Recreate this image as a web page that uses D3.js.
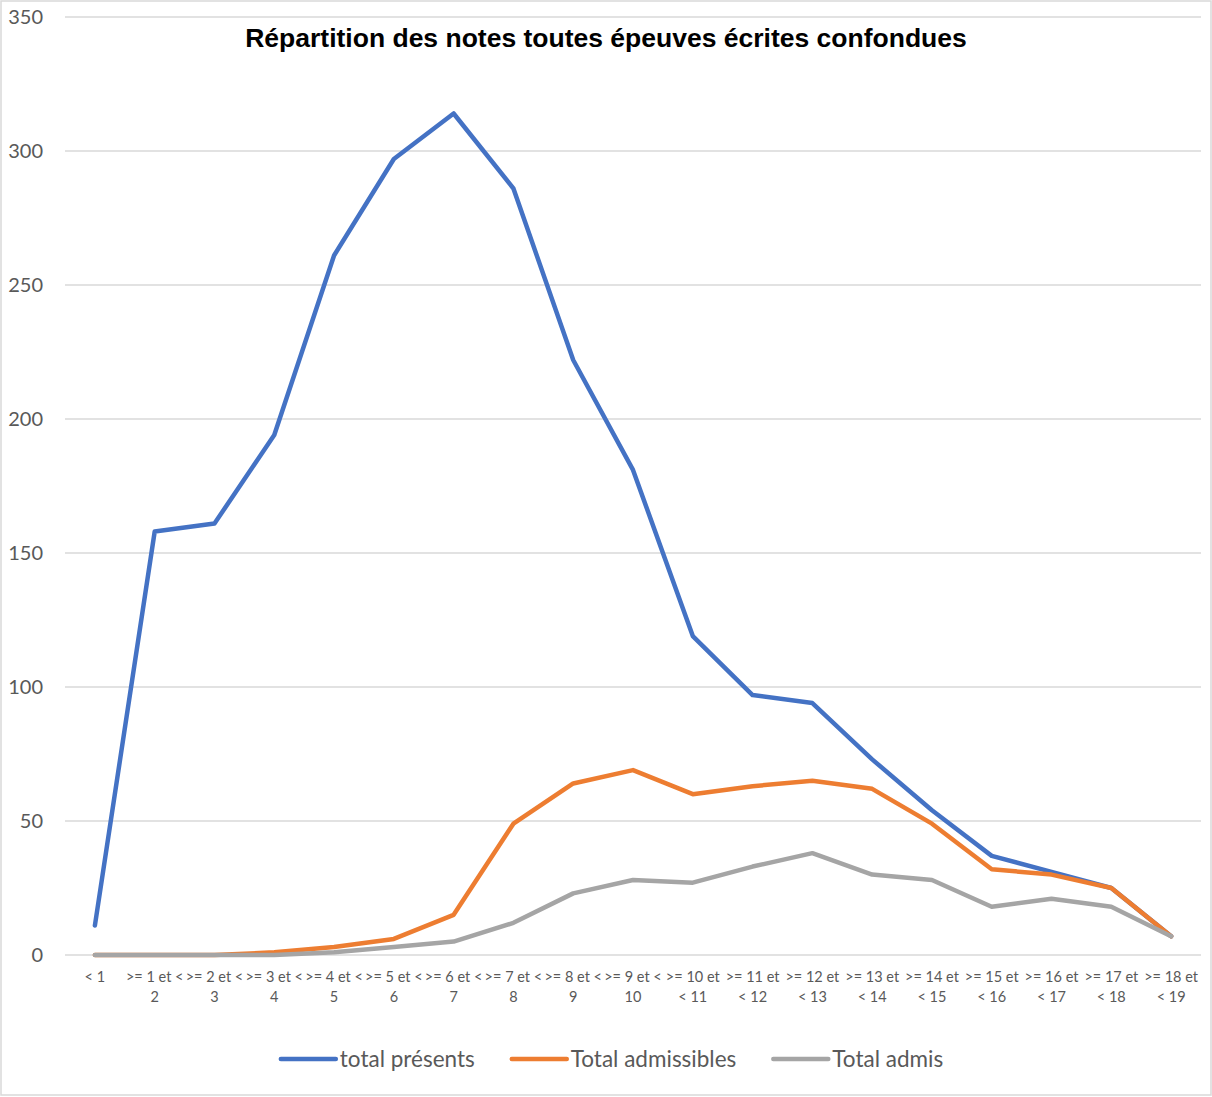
<!DOCTYPE html>
<html><head><meta charset="utf-8">
<script src="https://cdn.jsdelivr.net/npm/d3@7"></script>
<style>body{margin:0;background:#fff}svg{display:block}</style>
</head><body>
<svg id="c" width="1212" height="1097"></svg>
<script>
const title = "Répartition des notes toutes épeuves écrites confondues";
const categories = ["< 1", ">= 1 et < 2", ">= 2 et < 3", ">= 3 et < 4", ">= 4 et < 5", ">= 5 et < 6", ">= 6 et < 7", ">= 7 et < 8", ">= 8 et < 9", ">= 9 et < 10", ">= 10 et < 11", ">= 11 et < 12", ">= 12 et < 13", ">= 13 et < 14", ">= 14 et < 15", ">= 15 et < 16", ">= 16 et < 17", ">= 17 et < 18", ">= 18 et < 19"];
const tickLines = [["< 1"], [">= 1 et <", "2"], [">= 2 et <", "3"], [">= 3 et <", "4"], [">= 4 et <", "5"], [">= 5 et <", "6"], [">= 6 et <", "7"], [">= 7 et <", "8"], [">= 8 et <", "9"], [">= 9 et <", "10"], [">= 10 et", "< 11"], [">= 11 et", "< 12"], [">= 12 et", "< 13"], [">= 13 et", "< 14"], [">= 14 et", "< 15"], [">= 15 et", "< 16"], [">= 16 et", "< 17"], [">= 17 et", "< 18"], [">= 18 et", "< 19"]];
const seriesNames = ["total présents", "Total admissibles", "Total admis"];
const presents = [11, 158, 161, 194, 261, 297, 314, 286, 222, 181, 119, 97, 94, 73, 54, 37, 31, 25, 7];
const admissibles = [0, 0, 0, 1, 3, 6, 15, 49, 64, 69, 60, 63, 65, 62, 49, 32, 30, 25, 7];
const admis = [0, 0, 0, 0, 1, 3, 5, 12, 23, 28, 27, 33, 38, 30, 28, 18, 21, 18, 7];
const yTicks = [0, 50, 100, 150, 200, 250, 300, 350];
const colors = ["#4472C4", "#ED7D31", "#A5A5A5"];

const svg = d3.select("#c");
svg.append("rect").attr("x", 1).attr("y", 1).attr("width", 1210).attr("height", 1094)
  .attr("fill", "#fff").attr("stroke", "#d9d9d9").attr("stroke-width", 1.5);

const L = 65, R = 1201, T = 17, B = 955;
const x = d3.scalePoint().domain(categories).range([L, R]).padding(0.5);
const y = d3.scaleLinear().domain([0, 350]).range([B, T]);

const grid = svg.append("g");
grid.selectAll("line").data(yTicks).join("line")
  .attr("x1", L).attr("x2", R).attr("y1", d => y(d)).attr("y2", d => y(d))
  .attr("stroke", "#d9d9d9").attr("stroke-width", 1.5);

const axisFont = "Lato, 'Open Sans', sans-serif";
svg.append("g").selectAll("text").data(yTicks).join("text")
  .attr("x", 43).attr("y", d => y(d)).attr("dy", "0.35em").attr("text-anchor", "end")
  .attr("font-family", axisFont).attr("font-size", 20).attr("fill", "#595959")
  .text(d => d);

const xl = svg.append("g");
categories.forEach((c, i) => {
  const t = xl.append("text").attr("text-anchor", "middle")
    .attr("font-family", axisFont).attr("font-size", 14.5).attr("fill", "#595959");
  tickLines[i].forEach((ln, j) => {
    t.append("tspan").attr("x", x(c)).attr("y", 982 + j * 19.5).text(ln);
  });
});

const line = d3.line().x((d, i) => x(categories[i])).y(d => y(d));
[presents, admissibles, admis].forEach((s, k) => {
  svg.append("path").datum(s).attr("d", line).attr("fill", "none")
    .attr("stroke", colors[k]).attr("stroke-width", 4.5)
    .attr("stroke-linejoin", "round").attr("stroke-linecap", "round");
});

svg.append("text").attr("x", 606).attr("y", 47).attr("text-anchor", "middle")
  .attr("font-family", "'Liberation Sans', Arial, sans-serif").attr("font-weight", "bold")
  .attr("font-size", 26.5).attr("fill", "#000").text(title);

// legend
const lg = svg.append("g");
const items = seriesNames.map((n, k) => {
  const g = lg.append("g");
  g.append("line").attr("x1", 0).attr("x2", 55).attr("y1", 0).attr("y2", 0)
    .attr("stroke", colors[k]).attr("stroke-width", 4.5).attr("stroke-linecap", "round");
  const t = g.append("text").attr("x", 59).attr("y", 0).attr("dy", "0.35em")
    .attr("font-family", axisFont).attr("font-size", 22.5).attr("fill", "#595959").text(n);
  return {g, w: 59 + t.node().getComputedTextLength()};
});
const gap = 37;
const total = d3.sum(items, d => d.w) + gap * (items.length - 1);
let cx = 612 - total / 2;
items.forEach(it => { it.g.attr("transform", `translate(${cx},1059)`); cx += it.w + gap; });
</script>
</body></html>
